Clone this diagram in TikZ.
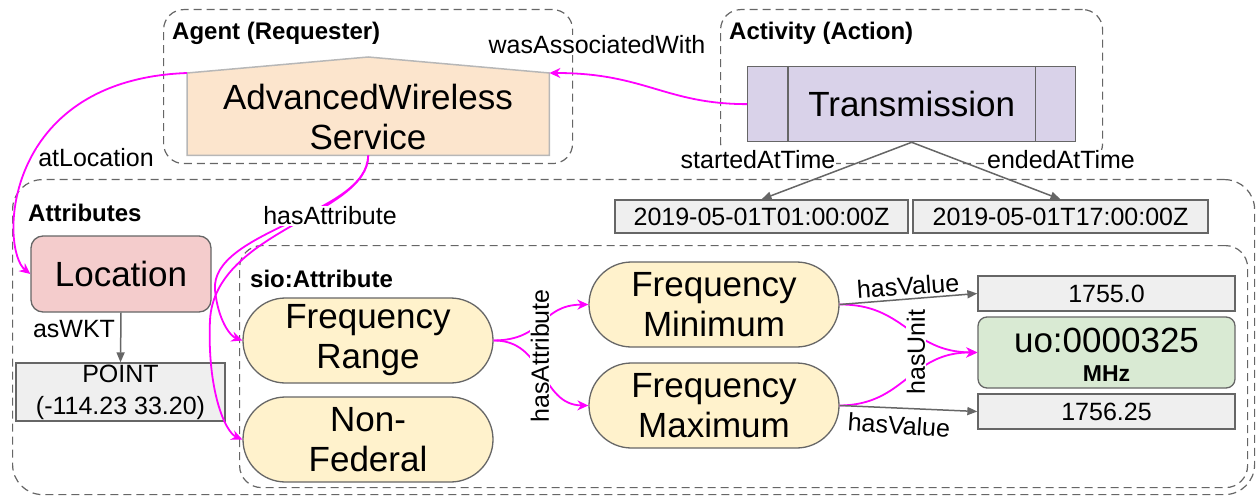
\documentclass[tikz,border=0pt]{standalone}
\usepackage{fontspec}
\setmainfont{Liberation Sans}
\usetikzlibrary{arrows.meta,shapes.misc,calc}

\definecolor{edge}{HTML}{666666}
\definecolor{mag}{HTML}{FF00FF}
\definecolor{agentfill}{HTML}{FCE5CD}
\definecolor{agentline}{HTML}{B7B7B7}
\definecolor{actfill}{HTML}{D9D2E9}
\definecolor{locfill}{HTML}{F4CCCC}
\definecolor{attrfill}{HTML}{FFF2CC}
\definecolor{litfill}{HTML}{EFEFEF}
\definecolor{unitfill}{HTML}{D9EAD3}

\begin{document}
\begin{tikzpicture}[x=1pt,y=-1pt,
  group/.style={draw=edge, line width=1.2pt, dash pattern=on 8pt off 5pt,
    anchor=north west, inner sep=0pt},
  ttl/.style={font=\bfseries\fontsize{24}{28}\selectfont, anchor=west, inner sep=0pt},
  big/.style={font=\fontsize{35}{40}\selectfont, align=center},
  lbl/.style={font=\fontsize{25}{29}\selectfont, inner sep=1pt, fill=white},
  bare/.style={font=\fontsize{25}{29}\selectfont, inner sep=1pt},
  val/.style={font=\fontsize{25}{32}\selectfont, align=center},
  box/.style={draw=edge, line width=1.3pt, inner sep=0pt},
  lit/.style={box, fill=litfill, val},
  pill/.style={box, rounded rectangle, fill=attrfill, big,
    minimum width=250pt, minimum height=85pt},
  link/.style={draw=mag, line width=1.8pt, -{Stealth[length=11pt,width=10pt]}},
  plain/.style={draw=edge, line width=1.5pt, -{Triangle[length=10pt,width=8pt]}}
]
\useasboundingbox (0,0) rectangle (1257,497);

% dashed grouping frames
\node[group, rounded corners=20pt, minimum width=409pt, minimum height=154pt] (agentgrp) at (163,9) {};
\node[group, rounded corners=20pt, minimum width=382pt, minimum height=154pt] (actgrp) at (720,9) {};
\node[group, rounded corners=30pt, minimum width=1242pt, minimum height=315pt] (attrgrp) at (12,179) {};
\node[group, rounded corners=22pt, minimum width=1008pt, minimum height=242pt] (siogrp) at (239,245) {};

\node[ttl] (agentttl) at (172,33) {Agent (Requester)};
\node[ttl] (actttl) at (729,33) {Activity (Action)};
\node[ttl] (attrttl) at (28,213) {Attributes};
\node[ttl] (siottl) at (250,279) {sio:Attribute};

% agent: house-shaped box
\node[anchor=north west, inner sep=0pt, minimum width=362pt, minimum height=82pt] (aws) at (187,73) {};
\filldraw[fill=agentfill, draw=agentline, line width=1.5pt]
  (aws.south west) -- (aws.north west) -- ($(aws.north)+(0,-16)$) -- (aws.north east)
  -- (aws.south east) -- cycle;
\node[big] (awstxt) at (368,117) {AdvancedWireless\\Service};

% activity
\node[box, fill=actfill, big, anchor=north west, minimum width=328pt, minimum height=75pt] (tr) at (747,66) {Transmission};
\draw[edge, line width=1.3pt] ([xshift=41pt]tr.north west) -- ([xshift=41pt]tr.south west)
  ([xshift=-41pt]tr.north east) -- ([xshift=-41pt]tr.south east);

% time stamps
\node[lit, minimum width=293pt, minimum height=33pt] (t1) at (761.5,216.5) {2019-05-01T01:00:00Z};
\node[lit, minimum width=295pt, minimum height=33pt] (t2) at (1060.5,216.5) {2019-05-01T17:00:00Z};

% location
\node[box, fill=locfill, big, rounded corners=12pt, minimum width=180pt, minimum height=76pt] (loc) at (121,274) {Location};
\node[lit, minimum width=209pt, minimum height=58pt] (pt) at (120.5,392) {POINT\\(-114.23 33.20)};

% attributes
\node[pill] (fr) at (368,340.5) {Frequency\\Range};
\node[pill] (nf) at (368,439.5) {Non-\\Federal};
\node[pill] (fmin) at (714,304.5) {Frequency\\Minimum};
\node[pill] (fmax) at (714,405.5) {Frequency\\Maximum};

\node[lit, minimum width=257pt, minimum height=35pt] (v1) at (1106.5,293.5) {1755.0};
\node[box, fill=unitfill, rounded corners=9pt, minimum width=257pt, minimum height=71pt] (uo) at (1106.5,352.5) {};
\node[font=\fontsize{35}{40}\selectfont, inner sep=0pt] (uoid) at (1106.5,340) {uo:0000325};
\node[font=\bfseries\fontsize{23}{27}\selectfont, inner sep=0pt] (uoname) at (1106.5,374) {MHz};
\node[lit, minimum width=257pt, minimum height=35pt] (v2) at (1106.5,411.5) {1756.25};

% connectors
\draw[link] (tr.west) .. controls (665,104) and (645,73) .. (aws.north east);
\draw[link] (aws.north west) .. controls (0,80) and (0,250) .. (loc.west);
\draw[link] (aws.south) .. controls (368,215) and (210,230) .. (215,290)
  .. controls (218,320) and (230,336) .. (fr.west);
\draw[link] (aws.south) .. controls (368,215) and (215,230) .. (210,320)
  .. controls (207,390) and (225,432) .. (nf.west);
\draw[link] (fr.east) .. controls (545,340) and (540,305) .. (fmin.west);
\draw[link] (fr.east) .. controls (545,340) and (540,405) .. (fmax.west);
\draw[link] (fmin.east) .. controls (905,304) and (910,352) .. (uo.west);
\draw[link] (fmax.east) .. controls (905,405) and (910,352) .. (uo.west);

\draw[plain] (tr.south) -- (t1.north);
\draw[plain] (tr.south) -- (t2.north);
\draw[plain] (loc.south) -- (pt.north);
\draw[plain] (fmin.east) -- (v1.west);
\draw[plain] (fmax.east) -- (v2.west);

% edge labels
\node[lbl] (lassoc) at (597,45) {wasAssociatedWith};
\node[lbl] (lstart) at (758,160) {startedAtTime};
\node[lbl] (lend) at (1061,160) {endedAtTime};
\node[lbl] (lloc) at (96,158) {atLocation};
\node[lbl] (lattr) at (330,216) {hasAttribute};
\node[bare] (lwkt) at (74,329) {asWKT};
\node[lbl, rotate=90] (lattr2) at (540,356) {hasAttribute};
\node[lbl, rotate=90] (lunit) at (916,352) {hasUnit};
\node[bare, rotate=4] (lval1) at (908,286) {hasValue};
\node[bare, rotate=-4] (lval2) at (899,425) {hasValue};
\end{tikzpicture}
\end{document}
